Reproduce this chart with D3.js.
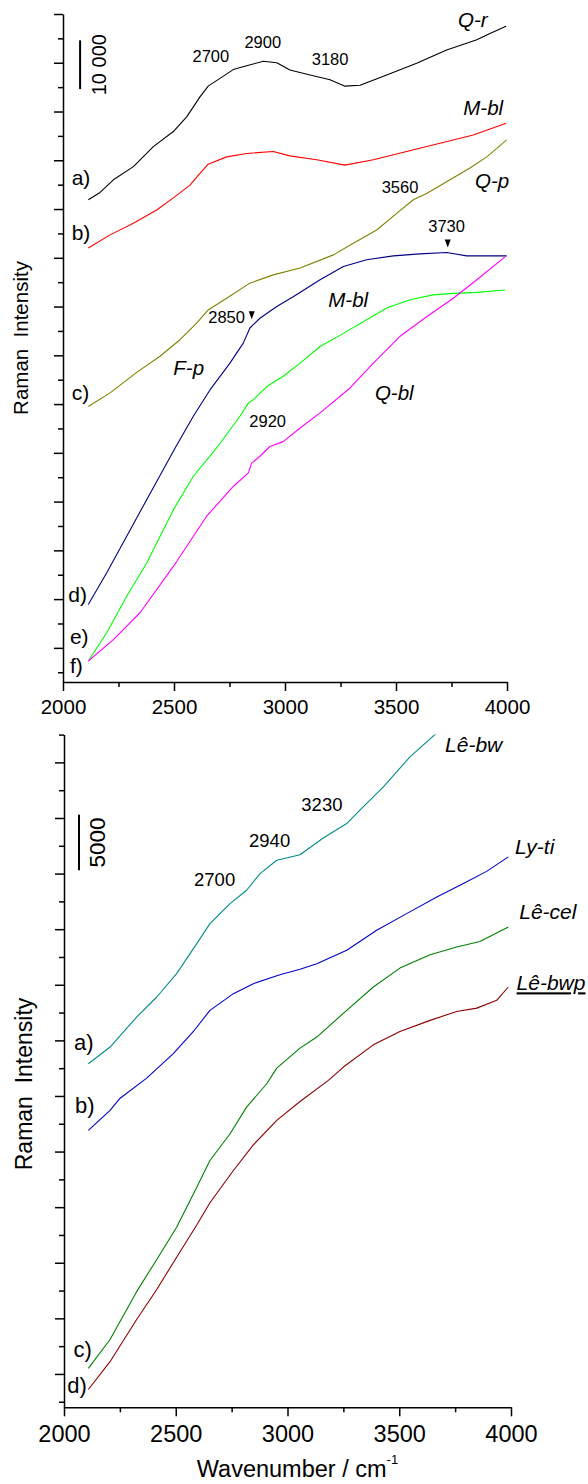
<!DOCTYPE html>
<html>
<head>
<meta charset="utf-8">
<script src="https://cdn.jsdelivr.net/npm/d3@7"></script>
<style>
body { margin: 0; background: #fff; }
svg text { font-family: "Liberation Sans", Arial, sans-serif; fill: #000; }
</style>
</head>
<body>
<div id="chart"></div>
<script>
// wavenumber (cm-1), intensity (x1000 counts, offset spectra)
var specQr = [[2114,91.9],[2167,93.4],[2227,96.0],[2317,98.7],[2407,102.8],[2497,105.9],[2557,108.9],[2617,113.0],[2654,115.2],[2707,116.8],[2767,118.6],[2827,119.4],[2902,120.3],[2963,120.0],[3022,118.5],[3113,117.5],[3203,116.5],[3270,115.2],[3338,115.4],[3458,117.5],[3593,119.9],[3728,122.6],[3864,124.7],[3923,126.0],[3996,127.5]];
var specMbl1 = [[2114,82.0],[2212,84.7],[2317,87.1],[2422,89.8],[2497,92.3],[2572,94.9],[2617,97.3],[2654,99.2],[2737,100.7],[2827,101.4],[2947,101.8],[3022,100.9],[3143,100.1],[3270,99.0],[3398,100.1],[3548,101.8],[3698,103.5],[3848,105.2],[3996,107.6]];
var specQp = [[2114,49.5],[2212,52.3],[2332,56.5],[2437,59.8],[2527,63.2],[2602,66.6],[2654,69.3],[2737,71.7],[2842,74.8],[2947,76.5],[3068,77.9],[3218,80.6],[3308,83.0],[3413,85.7],[3503,89.1],[3578,91.9],[3638,93.2],[3743,96.0],[3833,98.4],[3909,100.7],[3999,104.2]];
var specFp = [[2114,8.9],[2197,15.4],[2287,22.9],[2377,30.4],[2505,41.0],[2587,47.5],[2662,52.9],[2752,58.4],[2812,62.5],[2842,65.6],[2857,66.3],[2887,67.6],[2963,70.0],[3037,72.0],[3158,75.5],[3263,78.2],[3368,79.6],[3488,80.4],[3608,80.8],[3728,81.1],[3818,80.4],[3909,80.4],[3999,80.4]];
var specMbl2 = [[2114,-2.7],[2197,3.1],[2287,10.6],[2377,17.4],[2497,28.3],[2587,35.2],[2692,41.0],[2797,47.5],[2835,50.2],[2857,50.9],[2918,53.6],[2992,55.7],[3068,58.4],[3158,61.8],[3263,64.5],[3368,67.3],[3458,69.7],[3563,71.4],[3668,72.4],[3758,72.7],[3864,72.9],[3991,73.4]];
var specQbl = [[2114,-2.7],[2227,1.7],[2347,7.2],[2497,16.7],[2647,27.0],[2767,33.1],[2835,35.9],[2850,37.9],[2887,39.3],[2932,41.3],[2992,42.3],[3068,45.1],[3158,48.2],[3293,53.3],[3398,58.4],[3518,63.9],[3638,67.9],[3758,71.7],[3864,75.5],[3991,80.2]];

var specLebw = [[2109,27.9],[2206,29.4],[2325,32.1],[2415,33.9],[2504,36.0],[2594,38.7],[2653,40.5],[2743,42.3],[2817,43.5],[2877,45.0],[2952,46.2],[3056,46.7],[3160,48.2],[3265,49.5],[3324,50.7],[3429,52.8],[3548,55.5],[3665,57.6]];
var specLyti = [[2109,21.9],[2206,23.7],[2251,24.8],[2370,26.6],[2489,28.8],[2579,30.8],[2653,32.7],[2758,34.2],[2847,35.1],[2966,35.9],[3056,36.4],[3131,36.9],[3265,38.1],[3399,39.9],[3533,41.4],[3668,42.9],[3787,44.1],[3891,45.2],[3988,46.5]];
var specLecel = [[2109,0.5],[2206,3.1],[2325,7.4],[2415,10.3],[2504,13.2],[2594,16.8],[2653,19.2],[2743,21.6],[2817,24.0],[2907,26.1],[2952,27.5],[3056,29.3],[3131,30.3],[3265,32.7],[3384,34.8],[3503,36.5],[3638,37.7],[3757,38.4],[3861,38.9],[3988,40.2]];
var specLebwp = [[2109,-1.4],[2206,1.1],[2325,4.9],[2415,7.6],[2504,10.5],[2594,13.4],[2653,15.4],[2758,18.3],[2847,20.6],[2952,22.8],[3056,24.5],[3183,26.4],[3250,27.6],[3384,29.6],[3503,30.8],[3638,31.8],[3757,32.6],[3847,32.9],[3936,33.6],[3988,34.8]];

var xTicks = [2000, 2500, 3000, 3500, 4000];
var xMinor = [2250, 2750, 3250, 3750];

// labels: [text, wavenumber, intensity]
var topLetters = [["a)",2039,94.9],["b)",2039,83.7],["c)",2039,50.9],["d)",2024,9.5],["e)",2031,0.7],["f)",2031,-5.1]];
var topNames = [["Q-r",3779,127.4],["M-bl",3803,109.3],["Q-p",3856,94.3],["M-bl",3195,69.9],["F-p",2497,55.9],["Q-bl",3405,50.9]];
var topPeaks = [["2700",2666,120.2],["2900",2900,123.1],["3180",3203,119.5],["3560",3518,93.2],["3730",3728,85.2],["2850",2737,66.6],["2920",2922,45.3]];
var topArrows = [[2850,67.4],[3733,82.1]];

var botLetters = [["a)",2045,29.1],["b)",2049,23.5],["c)",2042,1.5],["d)",2015,-1.7]];
var botNames = [["Lê-bw",3705,55.9],["Ly-ti",4018,46.8],["Lê-cel",4037,40.9],["Lê-bwp",4025,34.5]];
var botPeaks = [["2700",2674,43.9],["2940",2920,47.4],["3230",3154,50.6]];

var panels = [
    {
        series: [[specQr,"#000000"],[specMbl1,"#ff0000"],[specQp,"#808000"],[specFp,"#000080"],[specMbl2,"#00ff00"],[specQbl,"#ff00ff"]],
        xRange: [63, 507], yDomain: [-7, 130], yRange: [682, 14],
        yMajor: d3.range(0, 131, 10), yMinor: d3.range(-5, 130, 10),
        letters: topLetters, names: topNames, peaks: topPeaks, arrows: topArrows,
        bar: {value: 10, wn: 2077, from: 114.6, label: "10 000", font: 20},
        tickFont: 20.5, letterFont: 21, nameFont: 20.5, peakFont: 16.5,
        title: {x: 28.3, font: 20.5}, xTitle: false
    },
    {
        series: [[specLebw,"#008b8b"],[specLyti,"#0000c8"],[specLecel,"#008000"],[specLebwp,"#8b0000"]],
        xRange: [64, 511], yDomain: [-3, 57.5], yRange: [1407.3, 734.6],
        yMajor: d3.range(0, 56, 5), yMinor: d3.range(-2.5, 58, 5),
        letters: botLetters, names: botNames, peaks: botPeaks, arrows: [],
        bar: {value: 5, wn: 2067, from: 45.3, label: "5000", font: 22.5},
        tickFont: 23.5, letterFont: 22, nameFont: 21, peakFont: 18.5,
        title: {x: 31.5, font: 23}, xTitle: true
    }
];

var svg = d3.select("#chart")
    .append("svg")
    .attr("width", 588)
    .attr("height", 1484);

panels.forEach(function(p, i) {
    var x = d3.scaleLinear().domain([2000, 4000]).range(p.xRange);
    var y = d3.scaleLinear().domain(p.yDomain).range(p.yRange);
    var g = svg.append("g");

    g.append("clipPath").attr("id", "clip" + i)
        .append("rect")
        .attr("x", p.xRange[0]).attr("y", p.yRange[1])
        .attr("width", p.xRange[1] - p.xRange[0])
        .attr("height", p.yRange[0] - p.yRange[1]);

    var line = d3.line()
        .x(function(d) { return x(d[0]); })
        .y(function(d) { return y(d[1]); });

    g.append("g").attr("clip-path", "url(#clip" + i + ")")
        .selectAll("path")
        .data(p.series)
        .enter()
        .append("path")
        .attr("d", function(s) { return line(s[0]); })
        .style("fill", "none")
        .style("stroke", function(s) { return s[1]; })
        .style("stroke-width", 1.1)
        .style("stroke-linejoin", "round");

    // y axis, majors and minors
    g.append("g").attr("transform", "translate(" + p.xRange[0] + ",0)")
        .call(d3.axisLeft(y).tickValues(p.yMajor).tickSize(9).tickSizeOuter(0).tickFormat(""));
    g.append("g").attr("transform", "translate(" + p.xRange[0] + ",0)")
        .call(d3.axisLeft(y).tickValues(p.yMinor).tickSize(5).tickFormat(""))
        .select(".domain").remove();

    var xAx = g.append("g").attr("transform", "translate(0," + p.yRange[0] + ")")
        .call(d3.axisBottom(x).tickValues(xTicks).tickSize(9).tickSizeOuter(0).tickPadding(p.tickFont > 22 ? 9 : 8).tickFormat(d3.format("d")));
    g.append("g").attr("transform", "translate(0," + p.yRange[0] + ")")
        .call(d3.axisBottom(x).tickValues(xMinor).tickSize(5).tickFormat(""))
        .select(".domain").remove();

    g.selectAll(".domain, .tick line").style("stroke", "#000").style("stroke-width", 1.5);
    xAx.selectAll("text").style("font-size", p.tickFont + "px");

    // y title
    var yMid = (p.yRange[0] + p.yRange[1]) / 2 - (i === 0 ? 10 : -13);
    g.append("text")
        .attr("transform", "translate(" + p.title.x + "," + yMid + ") rotate(-90)")
        .attr("text-anchor", "middle")
        .style("white-space", "pre")
        .style("font-size", p.title.font + "px")
        .text("Raman  Intensity");

    // scale bar
    var bx = x(p.bar.wn);
    g.append("line")
        .attr("x1", bx).attr("x2", bx)
        .attr("y1", y(p.bar.from)).attr("y2", y(p.bar.from + p.bar.value))
        .style("stroke", "#000").style("stroke-width", 2);
    var bMid = (y(p.bar.from) + y(p.bar.from + p.bar.value)) / 2;
    g.append("text")
        .attr("transform", "translate(" + (bx + 26) + "," + bMid + ") rotate(-90)")
        .attr("text-anchor", "middle")
        .style("font-size", p.bar.font + "px")
        .text(p.bar.label);

    g.selectAll(".letter")
        .data(p.letters).enter().append("text")
        .attr("x", function(d) { return x(d[1]); })
        .attr("y", function(d) { return y(d[2]); })
        .style("font-size", p.letterFont + "px")
        .text(function(d) { return d[0]; });

    g.selectAll(".name")
        .data(p.names).enter().append("text")
        .attr("x", function(d) { return x(d[1]); })
        .attr("y", function(d) { return y(d[2]); })
        .style("font-size", p.nameFont + "px")
        .style("font-style", "italic")
        .style("text-decoration", function(d) { return d[0] === "Lê-bwp" ? "underline" : "none"; })
        .text(function(d) { return d[0]; });

    g.selectAll(".peak")
        .data(p.peaks).enter().append("text")
        .attr("x", function(d) { return x(d[1]); })
        .attr("y", function(d) { return y(d[2]); })
        .attr("text-anchor", "middle")
        .style("font-size", p.peakFont + "px")
        .text(function(d) { return d[0]; });

    g.selectAll(".arrow")
        .data(p.arrows).enter().append("path")
        .attr("transform", function(d) { return "translate(" + x(d[0]) + "," + y(d[1]) + ")"; })
        .attr("d", "M-3,-8L3,-8L0,0Z")
        .style("fill", "#000");

    if (p.xTitle) {
        var t = g.append("text")
            .attr("x", x(2594))
            .attr("y", p.yRange[0] + 69.4)
            .style("font-size", "23.5px");
        t.append("tspan").text("Wavenumber / cm");
        t.append("tspan").attr("dy", -13).style("font-size", "13px").text("-1");
    }
});
</script>
</body>
</html>
